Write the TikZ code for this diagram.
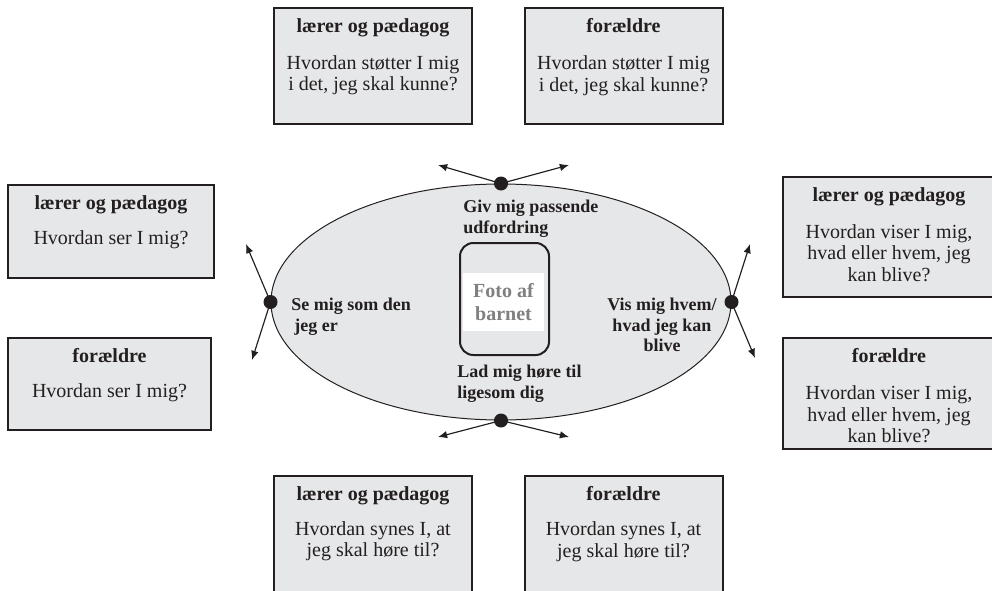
\documentclass[tikz,border=0pt]{standalone}
\usepackage{fontspec}
\setmainfont{Liberation Serif}
\definecolor{panelgray}{RGB}{230,231,232}
\definecolor{inkblack}{RGB}{35,31,32}
\usepackage{tikz}
\usetikzlibrary{arrows.meta,positioning,shapes.geometric}

\tikzset{
  panel/.style={draw=inkblack,line width=1.2pt,fill=panelgray,inner sep=0pt},
  paneltext/.style={align=center,inner sep=0pt,text=inkblack,font=\fontsize{12}{13}\selectfont},
  hint/.style={align=left,inner sep=0pt,text=inkblack,font=\fontsize{10.8}{12.3}\selectfont\bfseries},
  dot/.style={circle,fill=inkblack,inner sep=0pt,minimum size=8.4pt},
  pointer/.style={-{Latex[length=5.5pt,width=4.5pt]},line width=0.7pt,draw=inkblack}
}

\begin{document}
\begin{tikzpicture}[x=0.6pt,y=-0.6pt]
    \path[use as bounding box,clip] (0,0) rectangle (992,590);

    % Top row
    \node[panel,minimum width=118.8pt,minimum height=69.6pt] (tl) at (373,66) {};
    \node[paneltext,below=6.6pt of tl.north] (tl-txt) {\textbf{lærer og pædagog}\\[9.2pt]Hvordan støtter I mig\\i det, jeg skal kunne?};
    \node[panel,minimum width=118.8pt,minimum height=69.6pt] (tr) at (623.5,66) {};
    \node[paneltext,below=6.6pt of tr.north] (tr-txt) {\textbf{forældre}\\[9.2pt]Hvordan støtter I mig\\i det, jeg skal kunne?};

    % Left column
    \node[panel,minimum width=123.6pt,minimum height=55.8pt] (lu) at (111,231.5) {};
    \node[paneltext,below=6.6pt of lu.north] (lu-txt) {\textbf{lærer og pædagog}\\[8pt]Hvordan ser I mig?};
    \node[panel,minimum width=121.8pt,minimum height=55.2pt] (ll) at (109.5,384) {};
    \node[paneltext,below=6.6pt of ll.north] (ll-txt) {\textbf{forældre}\\[8pt]Hvordan ser I mig?};

    % Right column
    \node[panel,minimum width=127.2pt,minimum height=72pt] (ru) at (889,237) {};
    \node[paneltext,below=6.6pt of ru.north] (ru-txt) {\textbf{lærer og pædagog}\\[9.2pt]Hvordan viser I mig,\\hvad eller hvem, jeg\\kan blive?};
    \node[panel,minimum width=127.2pt,minimum height=66.6pt] (rl) at (889,393.5) {};
    \node[paneltext,below=6.6pt of rl.north] (rl-txt) {\textbf{forældre}\\[9.2pt]Hvordan viser I mig,\\hvad eller hvem, jeg\\kan blive?};

    % Bottom row
    \node[panel,minimum width=118.8pt,minimum height=72pt] (bl) at (373,536) {};
    \node[paneltext,below=6.6pt of bl.north] (bl-txt) {\textbf{lærer og pædagog}\\[8pt]Hvordan synes I, at\\jeg skal høre til?};
    \node[panel,minimum width=118.8pt,minimum height=72pt] (br) at (623.5,536) {};
    \node[paneltext,below=6.6pt of br.north] (br-txt) {\textbf{forældre}\\[8pt]Hvordan synes I, at\\jeg skal høre til?};

    % Ellipse with the child
    \node[ellipse,draw=inkblack,line width=0.6pt,fill=panelgray,inner sep=0pt,
          minimum width=276pt,minimum height=141.6pt] (ell) at (501,302) {};
    \node[draw=inkblack,line width=1.2pt,rounded corners=8pt,fill=panelgray,
          minimum width=53.4pt,minimum height=67.2pt] (foto) at (504.5,299) {};
    \node[fill=white,minimum width=48.6pt,minimum height=34.8pt,inner sep=0pt,align=center,
          text=black!50,font=\fontsize{12}{13.8}\selectfont\bfseries] (foto-txt) at (503.5,302) {Foto af\\barnet};

    \node[hint,anchor=north west] (giv) at (463,200) {Giv mig passende\\udfordring};
    \node[hint,anchor=north west] (se) at (291,298) {Se mig som den\\\,jeg er};
    \node[hint,align=center,anchor=north] (vis) at (662,298) {Vis mig hvem/\\hvad jeg kan\\blive};
    \node[hint,anchor=north west] (lad) at (457,365) {Lad mig høre til\\ligesom dig};

    % Dots and arrows
    \node[dot] (dn) at (ell.north) {};
    \node[dot] (ds) at (ell.south) {};
    \node[dot] (dw) at (ell.west) {};
    \node[dot] (de) at (ell.east) {};
    \coordinate (dn-l) at (438,165);
    \coordinate (dn-r) at (569,165);
    \coordinate (ds-l) at (438,437);
    \coordinate (ds-r) at (569,437);
    \coordinate (dw-u) at (246,244);
    \coordinate (dw-d) at (252,360);
    \coordinate (de-u) at (750,244);
    \coordinate (de-d) at (755,358);
    \draw[pointer] (dn.center) -- (dn-l);
    \draw[pointer] (dn.center) -- (dn-r);
    \draw[pointer] (ds.center) -- (ds-l);
    \draw[pointer] (ds.center) -- (ds-r);
    \draw[pointer] (dw.center) -- (dw-u);
    \draw[pointer] (dw.center) -- (dw-d);
    \draw[pointer] (de.center) -- (de-u);
    \draw[pointer] (de.center) -- (de-d);
\end{tikzpicture}
\end{document}
